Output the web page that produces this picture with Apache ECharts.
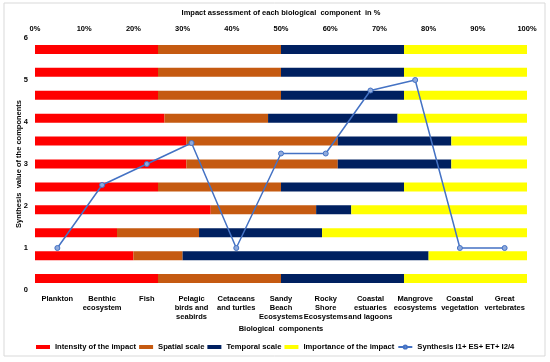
<!DOCTYPE html>
<html>
<head>
<meta charset="utf-8">
<script src="https://cdn.jsdelivr.net/npm/echarts@6/dist/echarts.min.js"></script>
<style>html,body{margin:0;padding:0;background:#fff;}#c{width:550px;height:362px;}</style>
</head>
<body>
<div id="c"></div>
<script>
// Biological components (bottom to top for bars, left to right for line)
var categories = ['Plankton','Benthic\necosystem','Fish','Pelagic\nbirds and\nseabirds','Cetaceans\nand turtles','Sandy\nBeach\nEcosystems','Rocky\nShore\nEcosystems','Coastal\nestuaries\nand lagoons','Mangrove\necosystems','Coastal\nvegetation','Great\nvertebrates'];
// Component scores (shares shown as % of each component's total)
var intensity  = [1, 2, 2, 5, 1, 4, 4, 5, 5, 1, 1];
var spatial    = [1, 1, 2, 3, 1, 4, 4, 4, 5, 1, 1];
var temporal   = [1, 5, 3, 1, 1, 3, 3, 5, 5, 1, 1];
var importance = [1, 2, 5, 5, 1, 2, 2, 5, 5, 1, 1];
// Synthesis (I1+ES+ET+I2)/4
var synthesis  = [1, 2.5, 3, 3.5, 1, 3.25, 3.25, 4.75, 5, 1, 1];

var totals = intensity.map(function(v,i){return v+spatial[i]+temporal[i]+importance[i];});
function share(arr){return arr.map(function(v,i){return +(v/totals[i]*100).toFixed(2);});}

var F = 'Liberation Sans, Arial, sans-serif';
var chart = echarts.init(document.getElementById('c'), null, {renderer:'canvas'});
var barBase = {type:'bar', stack:'total', xAxisIndex:0, yAxisIndex:1, barWidth:9, silent:true};
chart.setOption({
  animation:false,
  backgroundColor:'#fff',
  graphic:[{type:'rect', shape:{x:4,y:3,width:541,height:353}, style:{fill:'none', stroke:'#d9d9d9', lineWidth:1}, silent:true}],
  grid:{left:35, right:23, top:38, bottom:72, outerBoundsMode:'none', containLabel:false},
  legend:{
    left:36, top:343, width:520, itemWidth:14, itemHeight:4, itemGap:3, padding:0,
    textStyle:{fontFamily:F, fontWeight:'bold', fontSize:7.65, color:'#000'},
    data:[
      {name:'Intensity of the impact', icon:'rect'},
      {name:'Spatial scale', icon:'rect'},
      {name:'Temporal scale', icon:'rect'},
      {name:'Importance of the impact', icon:'rect'},
      {name:'Synthesis I1+ ES+ ET+ I2/4'}
    ]
  },
  xAxis:[
    {type:'value', position:'top', min:0, max:100, interval:10,
     name:'Impact assessment of each biological  component  in %', nameLocation:'middle', nameGap:21,
     nameTextStyle:{fontFamily:F, fontWeight:'bold', fontSize:7.5, color:'#000'},
     axisLine:{show:false}, axisTick:{show:false}, splitLine:{show:false},
     axisLabel:{formatter:'{value}%', margin:5, fontFamily:F, fontWeight:'bold', fontSize:7.5, color:'#000'}},
    {type:'category', position:'bottom', data:categories, boundaryGap:true,
     name:'Biological  components', nameLocation:'middle', nameGap:35, nameMoveOverlap:false,
     nameTextStyle:{fontFamily:F, fontWeight:'bold', fontSize:7.5, color:'#000'},
     axisLine:{show:false}, axisTick:{show:false}, splitLine:{show:false},
     axisLabel:{interval:0, margin:5, lineHeight:8.7, fontFamily:F, fontWeight:'bold', fontSize:7.5, color:'#000'}}
  ],
  yAxis:[
    {type:'value', position:'left', min:0, max:6, interval:1,
     name:'Synthesis  value of the components', nameLocation:'middle', nameGap:12, nameMoveOverlap:false,
     nameTextStyle:{fontFamily:F, fontWeight:'bold', fontSize:7.5, color:'#000'},
     axisLine:{show:false}, axisTick:{show:false}, splitLine:{show:false},
     axisLabel:{margin:7, fontFamily:F, fontWeight:'bold', fontSize:7.5, color:'#000'}},
    {type:'category', position:'right', data:categories, show:false}
  ],
  series:[
    Object.assign({name:'Intensity of the impact', data:share(intensity), itemStyle:{color:'#FF0000'}}, barBase),
    Object.assign({name:'Spatial scale', data:share(spatial), itemStyle:{color:'#C55A11'}}, barBase),
    Object.assign({name:'Temporal scale', data:share(temporal), itemStyle:{color:'#002060'}}, barBase),
    Object.assign({name:'Importance of the impact', data:share(importance), itemStyle:{color:'#FFFF00'}}, barBase),
    {name:'Synthesis I1+ ES+ ET+ I2/4', type:'line', xAxisIndex:1, yAxisIndex:0, data:synthesis,
     symbol:'circle', symbolSize:5, z:5,
     lineStyle:{color:'#4472C4', width:1.5},
     itemStyle:{color:'#8FAADC', borderColor:'#4472C4', borderWidth:1}}
  ]
});
</script>
</body>
</html>
